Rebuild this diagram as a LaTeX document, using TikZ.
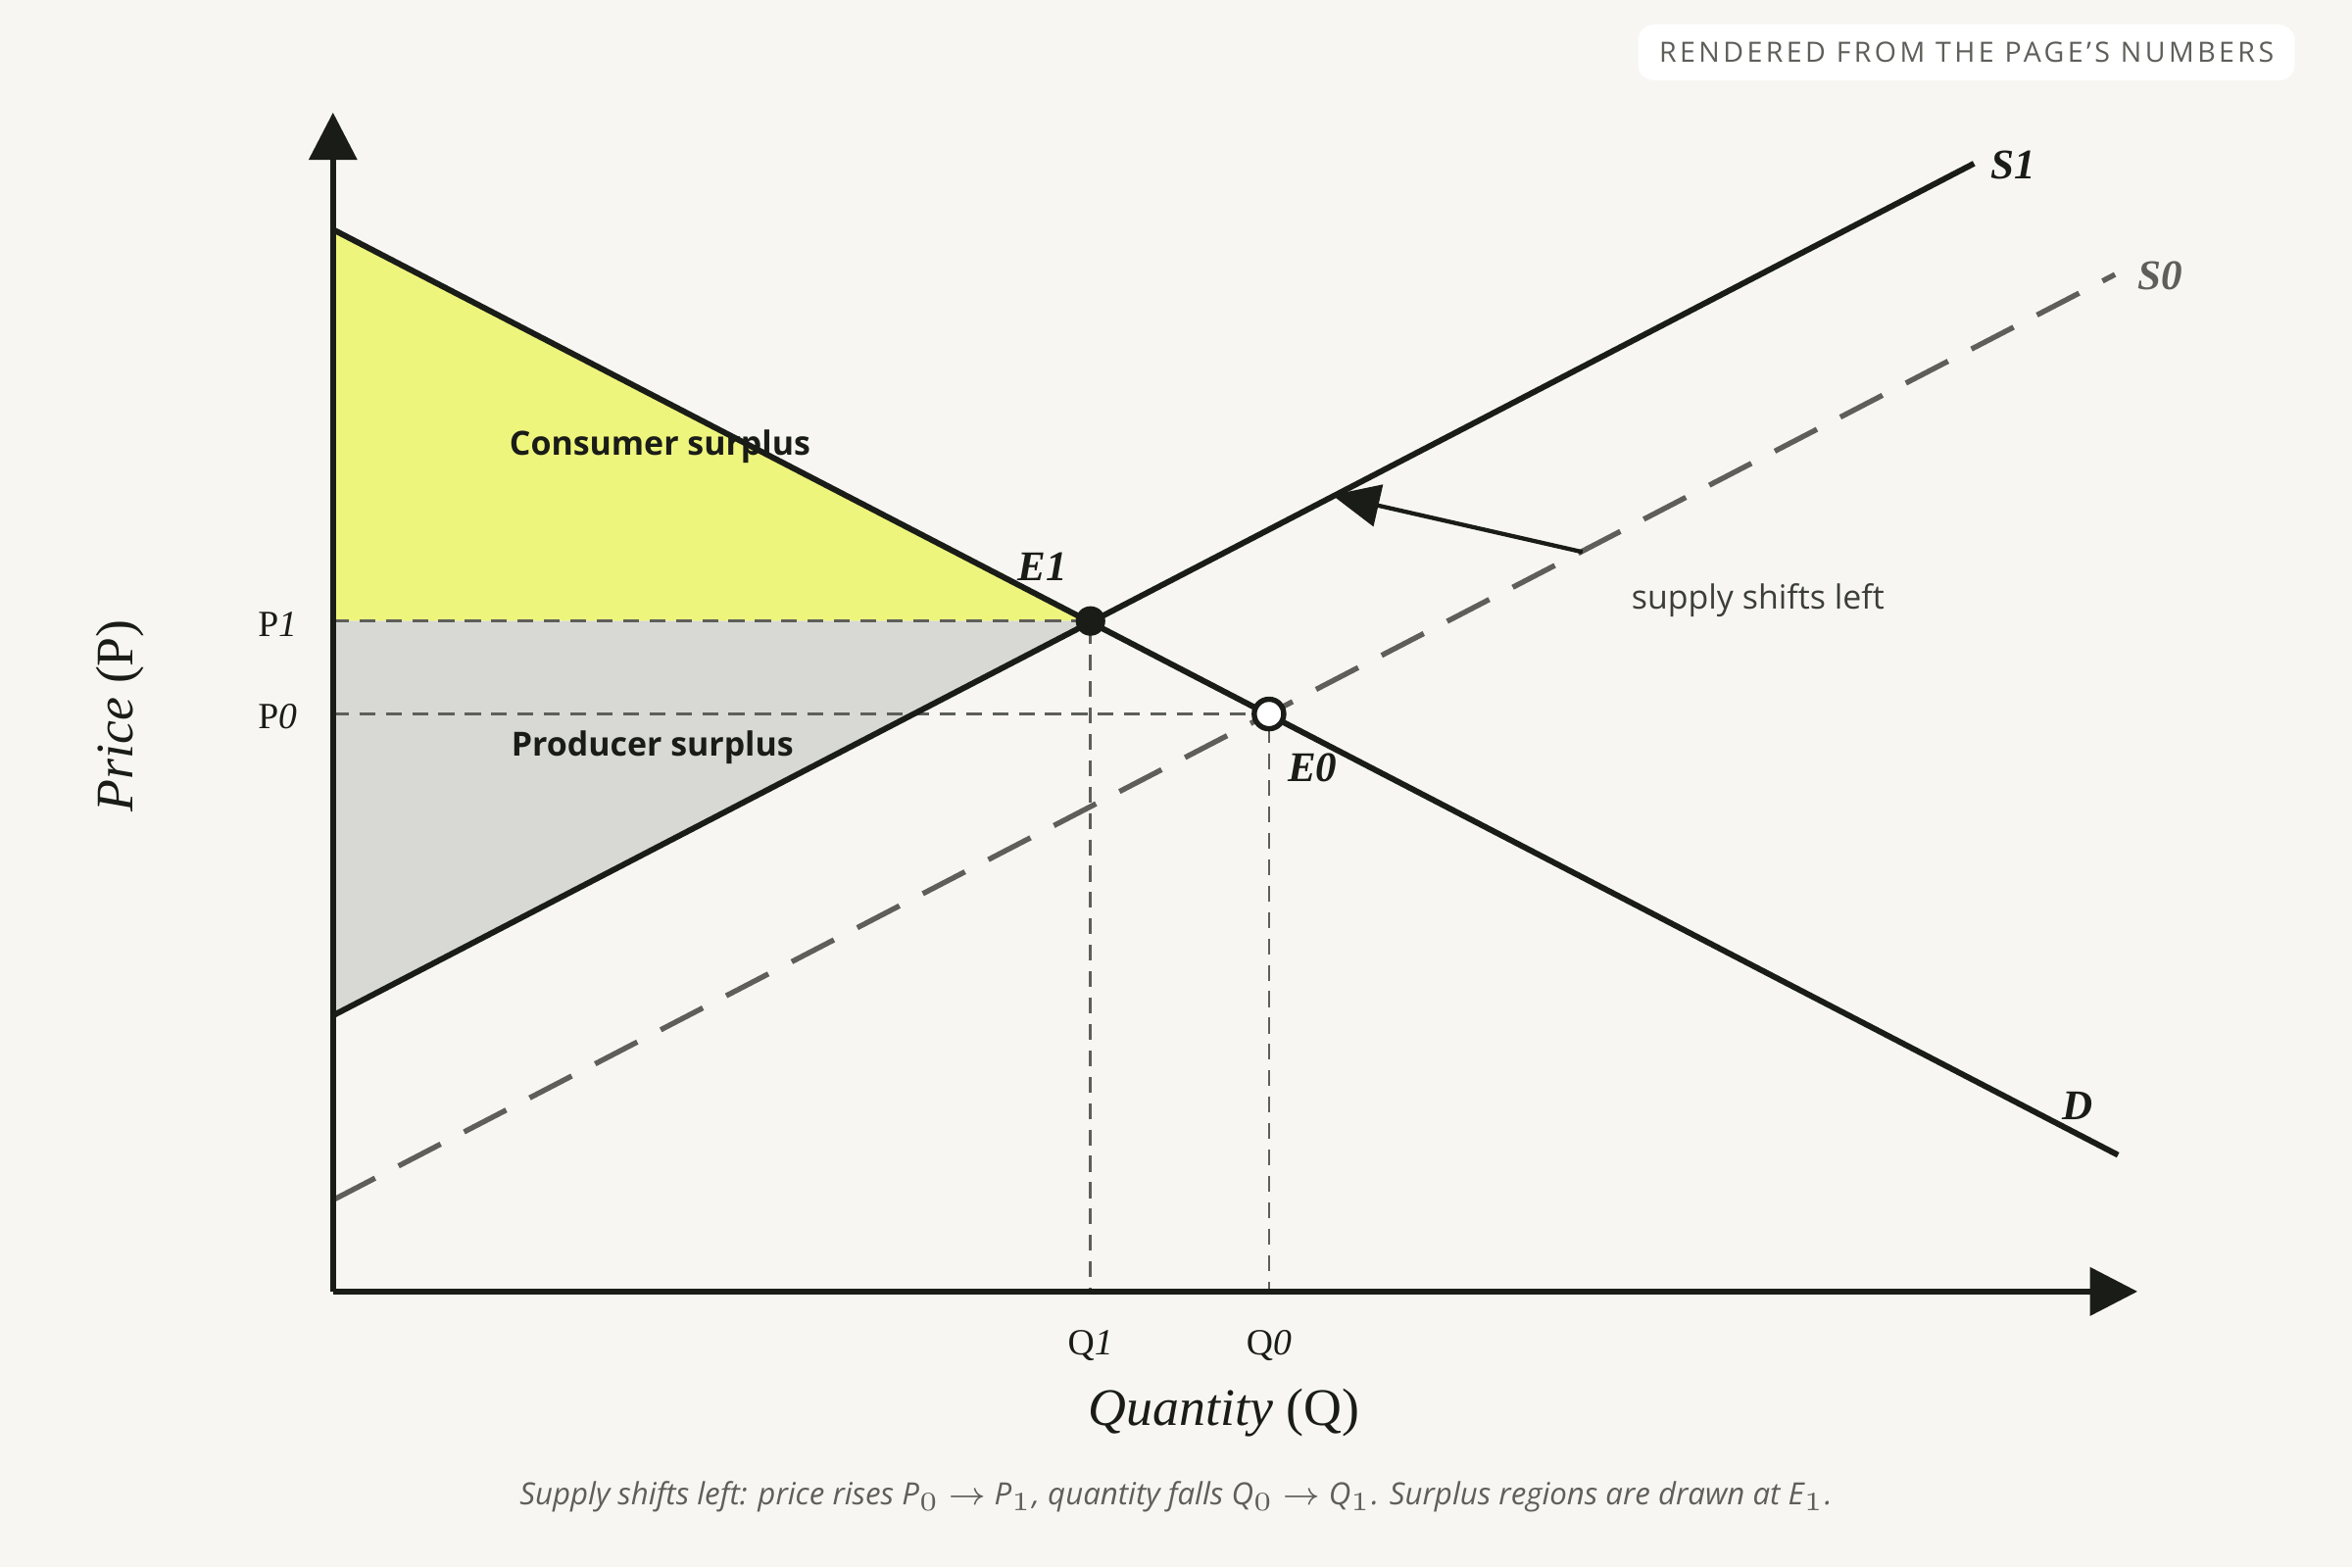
\documentclass[tikz,border=0pt]{standalone}
\usepackage{fontspec}
\setmainfont{Liberation Serif}
\setsansfont{Open Sans}
\usetikzlibrary{positioning,arrows.meta}
\definecolor{bg}{HTML}{F7F6F2}
\definecolor{cs}{HTML}{EEF57C}
\definecolor{ps}{HTML}{D8D9D4}
\definecolor{ink}{HTML}{1A1C18}
\definecolor{dim}{HTML}{5E5E5A}
\begin{document}
\begin{tikzpicture}[x=0.01cm,y=-0.01cm]
    \tikzset{curve/.style={line width=1.1pt,draw=ink},
    old/.style={line width=1pt,draw=dim,dash pattern=on 9pt off 5pt},
    guide/.style={line width=0.5pt,draw=dim,dash pattern=on 3pt off 2pt},
    tick/.style={font=\fontsize{7}{8}\selectfont,text=ink},
    lab/.style={font=\fontsize{8}{9}\selectfont\itshape\bfseries,text=ink},
    region/.style={font=\sffamily\fontsize{6.3}{7}\selectfont\bfseries,text=ink}}
    \fill[bg] (0,0) rectangle (1568,1045);
    \useasboundingbox (0,0) rectangle (1568,1045);
    % points
    \coordinate (O) at (222,861);
    \coordinate (ytop) at (222,75);
    \coordinate (xend) at (1425,861);
    \coordinate (d0) at (222,153);
    \coordinate (d1) at (1412,770);
    \coordinate (s10) at (222,677);
    \coordinate (s11) at (1316,109);
    \coordinate (s00) at (222,800);
    \coordinate (s01) at (1410,183);
    \coordinate (e1) at (727,414);
    \coordinate (e0) at (846,476);
    \coordinate (p1) at (222,414);
    \coordinate (p0) at (222,476);
    \coordinate (q1) at (727,861);
    \coordinate (q0) at (846,861);
    % surplus
    \fill[cs] (d0) -- (e1) -- (p1) -- cycle;
    \fill[ps] (p1) -- (e1) -- (s10) -- cycle;
    \draw[guide] (p1) -- (e1) -- (q1);
    \draw[guide] (p0) -- (e0) -- (q0);
    % curves
    \draw[old] (s00) -- (s01);
    \draw[curve] (d0) -- (d1);
    \draw[curve] (s10) -- (s11);
    \draw[line width=1.1pt,draw=ink,-{Triangle[length=9pt,width=9pt]}] (O) -- (ytop);
    \draw[line width=1.1pt,draw=ink,-{Triangle[length=9pt,width=9pt]}] (O) -- (xend);
    \fill[ink] (e1) circle (2.8pt);
    \draw[line width=1pt,draw=ink,fill=white] (e0) circle (2.8pt);
    \coordinate (arr0) at (1055,368);
    \coordinate (arr1) at (888,330);
    \draw[line width=0.8pt,draw=ink,-{Triangle[length=9pt,width=8pt]}] (arr0) -- (arr1);
    % labels
    \node[lab] (ls1) at (1342,110) {S1};
    \node[lab,text=dim] (ls0) at (1440,184) {S0};
    \node[lab] (ld) at (1385,737) {D};
    \node[lab] (le1) at (695,378) {E1};
    \node[lab] (le0) at (875,512) {E0};
    \node[tick] (lp1) at (185,416) {P\textit{1}};
    \node[tick] (lp0) at (185,478) {P\textit{0}};
    \node[tick] (lq1) at (727,897) {Q\textit{1}};
    \node[tick] (lq0) at (846,897) {Q\textit{0}};
    \node[font=\fontsize{10}{11}\selectfont,text=ink] (lq) at (816,942) {\textit{Quantity} (Q)};
    \node[font=\fontsize{10}{11}\selectfont,text=ink,rotate=90] (lp) at (80,477) {\textit{Price} (P)};
    \node[region] (cs) at (440,298) {Consumer surplus};
    \node[region] (ps) at (435,498) {Producer surplus};
    \node[font=\sffamily\fontsize{6.3}{7}\selectfont,text=ink!85] (shift) at (1172,400) {supply shifts left};
    \node[font=\sffamily\itshape\fontsize{5.8}{7}\selectfont,text=dim] (cap) at (784,998)
      {Supply shifts left: price rises P$_{\scriptscriptstyle 0}$ $\rightarrow$ P$_{\scriptscriptstyle 1}$, quantity falls Q$_{\scriptscriptstyle 0}$ $\rightarrow$ Q$_{\scriptscriptstyle 1}$. Surplus regions are drawn at E$_{\scriptscriptstyle 1}$.};
    \node[fill=white,rounded corners=3pt,inner xsep=4pt,minimum height=0.3cm,
      font=\sffamily\fontsize{5.3}{6}\selectfont\addfontfeature{LetterSpace=12},text=dim] (badge) at (1311,35)
      {RENDERED FROM THE PAGE'S NUMBERS};
\end{tikzpicture}
\end{document}
